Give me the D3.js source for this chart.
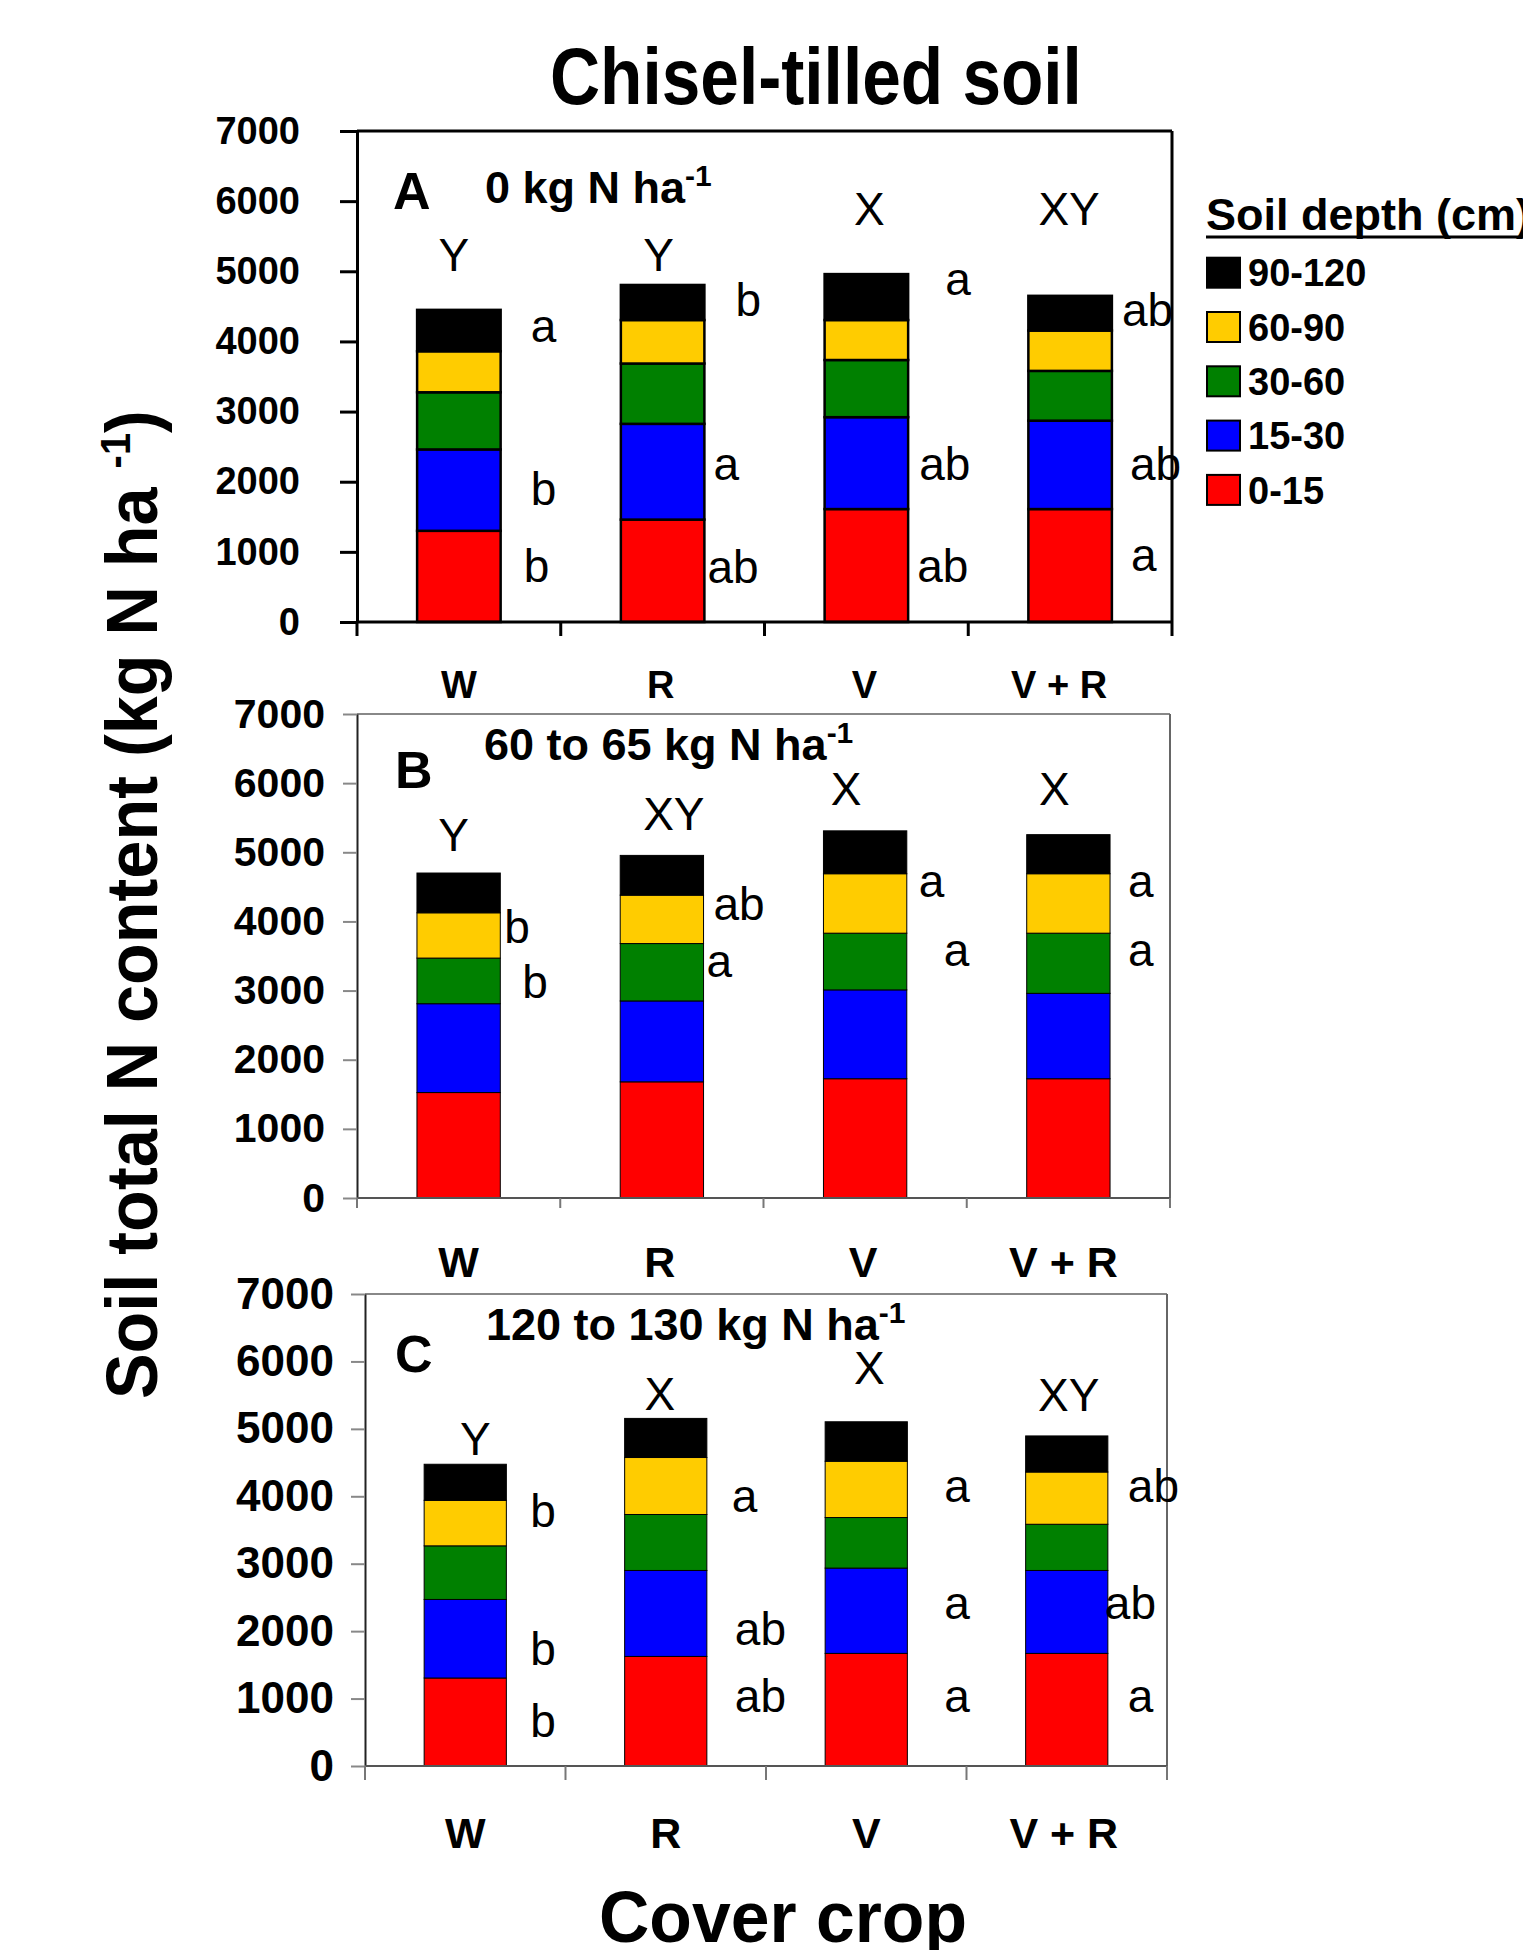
<!DOCTYPE html>
<html>
<head>
<meta charset="utf-8">
<script src="https://cdn.jsdelivr.net/npm/d3@7"></script>
<style>
  body { margin: 0; background: #fff; }
  svg { display: block; font-family: "Liberation Sans", Arial, Helvetica, sans-serif; }
</style>
</head>
<body>
<div id="chart"></div>
<script>
const crops = ["W", "R", "V", "V + R"];
const depths = ["0-15", "15-30", "30-60", "60-90", "90-120"];
const depthColors = ["#ff0000", "#0000ff", "#008000", "#ffcc00", "#000000"];
const yTicks = [0, 1000, 2000, 3000, 4000, 5000, 6000, 7000];

// soil N per depth layer, kg N/ha (rows = cover crop, cols = 0-15 ... 90-120 cm)
const nRate0 = [
    [1300, 1160, 815, 585, 590],
    [1460, 1365, 860, 620, 500],
    [1610, 1310, 815, 570, 655],
    [1610, 1260, 710, 575, 495]
];
const nRate60 = [
    [1525, 1285, 660, 655, 575],
    [1680, 1170, 830, 700, 575],
    [1725, 1285, 820, 860, 620],
    [1725, 1235, 870, 860, 565]
];
const nRate120 = [
    [1305, 1165, 795, 675, 535],
    [1625, 1275, 830, 845, 580],
    [1670, 1265, 750, 835, 585],
    [1670, 1230, 685, 775, 535]
];

const panelLetters = ["A", "B", "C"];
const rateLabels = ["0 kg N ha", "60 to 65 kg N ha", "120 to 130 kg N ha"];

// letters above the bars (total N)
const totalLetters0 = ["Y", "Y", "X", "XY"];
const totalLetters60 = ["Y", "XY", "X", "X"];
const totalLetters120 = ["Y", "X", "X", "XY"];

// letters beside the bars, top to bottom
const sideLetters0 = [["a", "b", "b"], ["b", "a", "ab"], ["a", "ab", "ab"], ["ab", "ab", "a"]];
const sideLetters60 = [["b", "b"], ["ab", "a"], ["a", "a"], ["a", "a"]];
const sideLetters120 = [["b", "b", "b"], ["a", "ab", "ab"], ["a", "a", "a"], ["ab", "ab", "a"]];

// where the letters sit: [dx px, level kg N/ha]
const topSpots = [
    [[-5, 5000], [-4, 5000], [3, 5660], [-1, 5660]],
    [[-5, 5020], [12, 5325], [-19, 5680], [-14, 5680]],
    [[10, 4605], [-6, 5285], [3, 5660], [2, 5270]]
];
const sideSpots = [
    [[[32, 3990], [32, 1670], [25, 570]], [[33, 4360], [11, 2025], [5, 560]], [[39, 4660], [13, 2025], [11, 570]], [[12, 4215], [20, 2025], [21, 725]]],
    [[[6, 3690], [24, 2890]], [[12, 4015], [5, 3195]], [[14, 4355], [39, 3350]], [[20, 4355], [20, 3350]]],
    [[[26, 3540], [26, 1500], [26, 435]], [[27, 3765], [30, 1790], [30, 800]], [[39, 3915], [39, 2180], [39, 800]], [[22, 3915], [-1, 2180], [22, 800]]]
];

const panels = [
    { values: nRate0, tops: totalLetters0, sides: sideLetters0,
      left: 357, right: 1172, top: 131, bottom: 622,
      heavy: true, tickLen: 17, tickPad: 40, tickFont: 38, catFont: 38, catDy: 76, xTick: 14,
      catShift: [0, -2, -2, -11],
      letter: [393, 209], sub: [485, 203] },
    { values: nRate60, tops: totalLetters60, sides: sideLetters60,
      left: 357, right: 1170, top: 714, bottom: 1198,
      heavy: false, tickLen: 14, tickPad: 18, tickFont: 41, catFont: 43, catDy: 79, xTick: 10,
      catShift: [0, -2, -2, -5],
      letter: [395, 788], sub: [484, 760] },
    { values: nRate120, tops: totalLetters120, sides: sideLetters120,
      left: 365, right: 1167, top: 1294, bottom: 1766,
      heavy: false, tickLen: 14, tickPad: 17, tickFont: 44, catFont: 43, catDy: 82, xTick: 14,
      catShift: [0, 0, 0, -3],
      letter: [395, 1372], sub: [486, 1340] }
];

const svg = d3.select("#chart").append("svg")
    .attr("width", 1523)
    .attr("height", 1950);

function drawPanel(p, k) {
    const g = svg.append("g");

    const x = d3.scaleBand()
        .domain(crops)
        .range([p.left, p.right])
        .paddingInner(0.59)
        .paddingOuter(0.295);

    const y = d3.scaleLinear()
        .domain([0, 7000])
        .range([p.bottom, p.top]);

    const rows = p.values.map((v, i) => {
        const r = { crop: crops[i] };
        depths.forEach((d, j) => r[d] = v[j]);
        return r;
    });
    const series = d3.stack().keys(depths)(rows);

    const frameColor = p.heavy ? "#000" : "#888";
    const frameWidth = p.heavy ? 3 : 2;

    // top and right border
    g.append("line")
        .attr("x1", p.left).attr("x2", p.right)
        .attr("y1", y(7000)).attr("y2", y(7000))
        .attr("stroke", frameColor).attr("stroke-width", frameWidth);
    g.append("line")
        .attr("x1", p.right).attr("x2", p.right)
        .attr("y1", y(7000)).attr("y2", y(0))
        .attr("stroke", p.heavy ? "#000" : "#666").attr("stroke-width", frameWidth);

    // stacked bars
    g.selectAll(".layer")
        .data(series)
        .join("g")
        .attr("class", "layer")
        .attr("fill", (d, i) => depthColors[i])
        .selectAll("rect")
        .data(d => d)
        .join("rect")
        .attr("x", d => x(d.data.crop))
        .attr("width", x.bandwidth())
        .attr("y", d => y(d[1]))
        .attr("height", d => y(d[0]) - y(d[1]))
        .attr("stroke", "#000")
        .attr("stroke-width", p.heavy ? 2.5 : 1);

    // y axis
    const yAxis = d3.axisLeft(y)
        .tickValues(yTicks)
        .tickSize(p.tickLen)
        .tickSizeOuter(0)
        .tickPadding(p.tickPad)
        .tickFormat(d3.format("d"));

    const ya = g.append("g")
        .attr("transform", `translate(${p.left},0)`)
        .call(yAxis);
    ya.select(".domain")
        .attr("stroke", p.heavy ? "#000" : "#222")
        .attr("stroke-width", p.heavy ? 3 : 2);
    ya.selectAll(".tick line")
        .attr("stroke", p.heavy ? "#000" : "#888")
        .attr("stroke-width", p.heavy ? 3 : 2);
    ya.selectAll(".tick text")
        .attr("fill", "#000")
        .style("font-size", p.tickFont + "px")
        .style("font-weight", "bold")
        .style("font-family", "'Liberation Sans', Arial, sans-serif");

    // x axis: base line, ticks between categories, labels
    g.append("line")
        .attr("x1", p.left).attr("x2", p.right)
        .attr("y1", y(0)).attr("y2", y(0))
        .attr("stroke", p.heavy ? "#000" : "#555")
        .attr("stroke-width", p.heavy ? 3 : 2);

    g.selectAll(".xtick")
        .data(d3.range(crops.length + 1))
        .join("line")
        .attr("class", "xtick")
        .attr("x1", i => p.left + i * x.step())
        .attr("x2", i => p.left + i * x.step())
        .attr("y1", y(0))
        .attr("y2", y(0) + p.xTick)
        .attr("stroke", p.heavy ? "#000" : "#777")
        .attr("stroke-width", p.heavy ? 3 : 2);

    g.selectAll(".xlab")
        .data(crops)
        .join("text")
        .attr("class", "xlab")
        .attr("x", (d, i) => x(d) + x.bandwidth() / 2 + p.catShift[i])
        .attr("y", y(0) + p.catDy)
        .attr("text-anchor", "middle")
        .style("font-size", p.catFont + "px")
        .style("font-weight", "bold")
        .text(d => d);

    // panel letter and N rate
    g.append("text")
        .attr("x", p.letter[0]).attr("y", p.letter[1])
        .style("font-size", "52px").style("font-weight", "bold")
        .text(panelLetters[k]);

    const sub = g.append("text")
        .attr("x", p.sub[0]).attr("y", p.sub[1])
        .style("font-size", "45px").style("font-weight", "bold");
    sub.append("tspan").text(rateLabels[k]);
    sub.append("tspan").attr("dy", -17).style("font-size", "30px").text("-1");

    // letters above bars
    g.selectAll(".toplet")
        .data(p.tops)
        .join("text")
        .attr("class", "toplet")
        .attr("x", (d, i) => x(crops[i]) + x.bandwidth() / 2 + topSpots[k][i][0])
        .attr("y", (d, i) => y(topSpots[k][i][1]))
        .attr("text-anchor", "middle")
        .style("font-size", "46px")
        .text(d => d);

    // letters beside bars
    const sideData = p.sides.flatMap((list, i) => list.map((t, j) => ({
        text: t, crop: crops[i], dx: sideSpots[k][i][j][0], level: sideSpots[k][i][j][1]
    })));
    g.selectAll(".sidelet")
        .data(sideData)
        .join("text")
        .attr("class", "sidelet")
        .attr("x", d => x(d.crop) + x.bandwidth() + d.dx - 2)
        .attr("y", d => y(d.level))
        .style("font-size", "46px")
        .text(d => d.text);
}

panels.forEach(drawPanel);

// squeeze a text to a measured width
function fitWidth(sel, width) {
    const len = sel.node().getComputedTextLength();
    return width / len;
}

// title
const title = svg.append("text")
    .style("font-size", "80px").style("font-weight", "bold")
    .text("Chisel-tilled soil");
const ts = fitWidth(title, 532);
title.attr("transform", `translate(550,104) scale(${ts},1)`);

// y axis title
const yTitle = svg.append("text")
    .style("font-size", "72px").style("font-weight", "bold");
yTitle.append("tspan").text("Soil total N content (kg N ha ");
yTitle.append("tspan").attr("dy", -27).style("font-size", "42px").text("-1");
yTitle.append("tspan").attr("dy", 27).text(")");
const ys = fitWidth(yTitle, 989);
yTitle.attr("transform", `translate(157,1399) rotate(-90) scale(${ys},1)`);

// x axis title
const xTitle = svg.append("text")
    .style("font-size", "72px").style("font-weight", "bold")
    .text("Cover crop");
const xs = fitWidth(xTitle, 368);
xTitle.attr("transform", `translate(599,1942) scale(${xs},1)`);

// legend
const legend = svg.append("g");
const legTitle = legend.append("text")
    .attr("x", 1206).attr("y", 230)
    .style("font-size", "45px").style("font-weight", "bold")
    .text("Soil depth (cm)");
legend.append("line")
    .attr("x1", 1206).attr("x2", 1206 + legTitle.node().getComputedTextLength())
    .attr("y1", 237).attr("y2", 237)
    .attr("stroke", "#000").attr("stroke-width", 3);

const legendOrder = depths.slice().reverse();
const legItems = legend.selectAll(".leg")
    .data(legendOrder)
    .join("g")
    .attr("class", "leg")
    .attr("transform", (d, i) => `translate(1206,${272.7 + i * 54.3})`);
legItems.append("rect")
    .attr("x", 1).attr("y", -15)
    .attr("width", 33).attr("height", 30)
    .attr("fill", d => depthColors[depths.indexOf(d)])
    .attr("stroke", "#000").attr("stroke-width", 2);
legItems.append("text")
    .attr("x", 42).attr("dy", "0.36em")
    .style("font-size", "38px").style("font-weight", "bold")
    .text(d => d);
</script>
</body>
</html>
